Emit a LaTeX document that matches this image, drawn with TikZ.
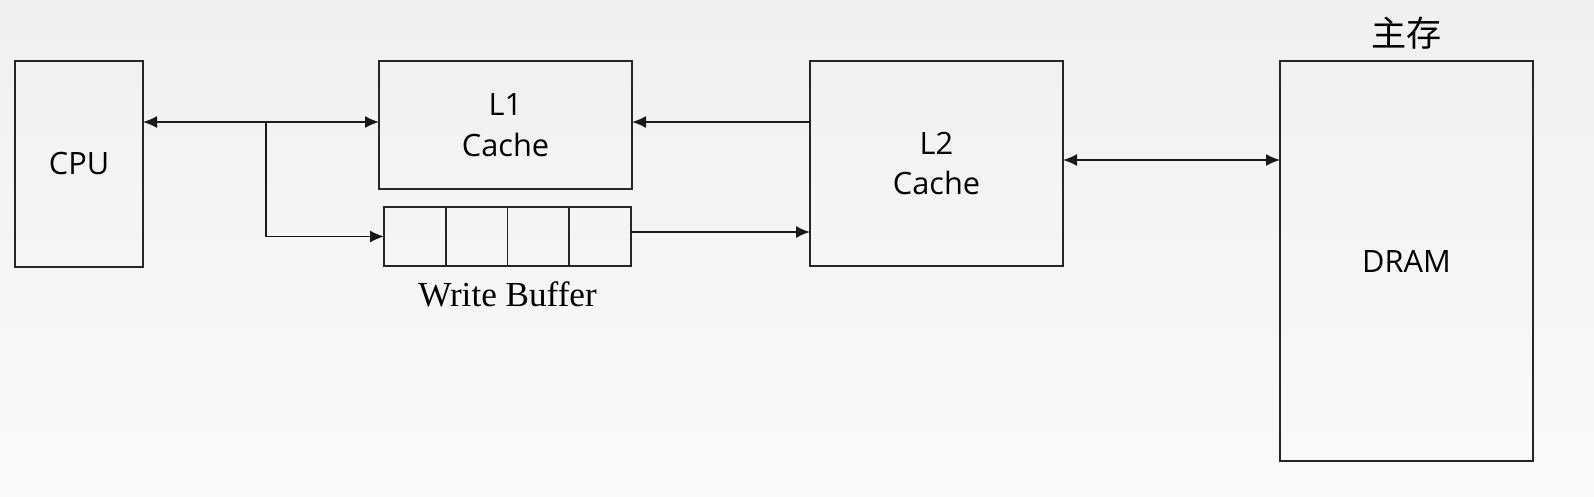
\documentclass[tikz,border=0pt]{standalone}
\usepackage{fontspec}
\setmainfont{Open Sans}
\newfontfamily\cjk{Noto Sans CJK SC}
\newfontfamily\wbfont{Liberation Serif}
\usetikzlibrary{scopes,chains,positioning,calc,arrows.meta}
\tikzset{
  mem schemes/.style = {
    line width    = 1pt,
    % Блоки
    blk/.style  = {
      draw=black!85,
      minimum width=5.06cm,
      inner sep=0pt, outer sep=0pt,
      align=center,
      font=\fontsize{17.5}{23}\selectfont
    },
    % Ячейки буфера
    cell/.style = {
      draw=black!85,
      minimum width=1.235cm,
      minimum height=1.18cm,
      inner sep=0pt, outer sep=0pt,
      on chain
    },
    node distance = 0mm,
    % Стрелки
    connect line/.style = {line width=0.8pt, black!90,
             -{Latex[length=2.8mm,width=2.4mm]}},
    connect both/.style = {connect line,
             {Latex[length=2.8mm,width=2.4mm]}-{Latex[length=2.8mm,width=2.4mm]}},
  },
}
\begin{document}
\begin{tikzpicture}[mem schemes]

		\shade[top color=black!6, bottom color=black!2] (0,0) rectangle (31.88,-9.92);
		\useasboundingbox (0,0) rectangle (31.88,-9.92);

		\node [blk, minimum width=2.56cm, minimum height=4.12cm] (cpu) at (1.58,-3.28) {CPU};
		\node [blk, minimum height=2.56cm] (l1)   at (10.11,-2.5)  {L1\\Cache};
		\node [blk, minimum height=4.1cm]  (l2)   at (18.73,-3.27) {L2\\Cache};
		\node [blk, minimum height=8cm]    (dram) at (28.13,-5.22) {DRAM};
		\node [above=1mm of dram, font=\cjk\fontsize{20}{24}\selectfont] (mainmem) {主存};

		{ [shift={(7.68,-4.73)}, start chain=wb going right, anchor=west]
			\foreach \i in {1,...,4} \node [cell] {};
		}
		\node [below=1.8mm of wb-2.south east, font=\wbfont\fontsize{20}{24}\selectfont] (wblabel) {Write Buffer};

		\coordinate (fork) at (5.32,-2.44);

		\draw[connect both] (cpu.east |- fork) -- (l1.west |- fork);
		\draw[connect line] (fork) |- (wb-1.west);
		\draw[connect line] (l2.west |- fork) -- (l1.east |- fork);
		\draw[connect line] ([yshift=0.9mm]wb-4.east) -- ([yshift=0.9mm]wb-4.east -| l2.west);
		\draw[connect both] ([yshift=0.07cm]l2.east) -- ([yshift=0.07cm]l2.east -| dram.west);

	\end{tikzpicture}
\end{document}
